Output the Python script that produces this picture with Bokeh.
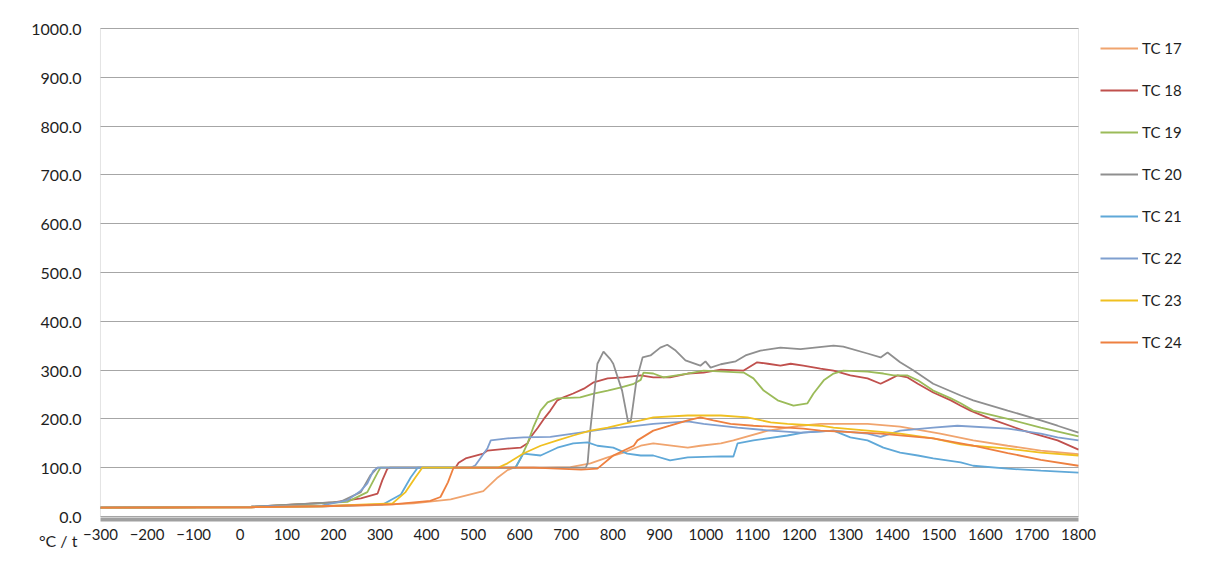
from bokeh.plotting import figure
from bokeh.models import Range1d, FixedTicker, PrintfTickFormatter, Legend, LegendItem, BoxAnnotation
from bokeh.embed import file_html
from bokeh.resources import INLINE

series_names = ["TC 17", "TC 18", "TC 19", "TC 20", "TC 21", "TC 22", "TC 23", "TC 24"]
colors = ["#F0A46E", "#C0504D", "#9BBB59", "#8F8F8F", "#5FA8D8", "#7F9FCF", "#F0C020", "#EE8040"]

x_ticks = list(range(-300, 1801, 100))
y_ticks = list(range(0, 1001, 100))
unit_label = "°C / t\u00a0"
unit_label_pos = -49

tc17_x = [-300, 24, 176, 277, 372, 452, 522, 553, 574, 587, 651, 709, 752, 789, 823, 860, 887, 961, 988, 1032, 1059, 1133, 1203, 1246, 1347, 1417, 1503, 1574, 1648, 1719, 1800]
tc17_y = [18, 19, 21, 23, 27, 35, 52, 80, 95, 100, 100, 101, 109, 121, 131, 145, 150, 141, 145, 150, 156, 176, 186, 190, 190, 184, 170, 156, 145, 135, 128]

tc18_x = [-300, 24, 200, 259, 295, 305, 316, 322, 462, 469, 484, 522, 531, 574, 602, 617, 623, 639, 652, 666, 681, 694, 715, 738, 759, 789, 823, 860, 887, 923, 961, 995, 1032, 1081, 1110, 1133, 1160, 1182, 1209, 1246, 1274, 1310, 1347, 1375, 1390, 1411, 1433, 1455, 1488, 1526, 1547, 1568, 1611, 1682, 1755, 1800]
tc18_y = [18, 20, 29, 37, 47, 74, 98, 100, 100, 110, 119, 129, 135, 139, 141, 150, 162, 182, 200, 217, 238, 244, 252, 262, 275, 283, 285, 289, 285, 285, 293, 295, 301, 299, 316, 313, 309, 313, 309, 303, 299, 289, 283, 272, 279, 289, 285, 272, 254, 238, 227, 217, 200, 176, 156, 137]

tc19_x = [-300, 24, 230, 273, 295, 301, 591, 602, 617, 629, 645, 660, 681, 730, 759, 789, 816, 845, 860, 866, 887, 909, 961, 995, 1081, 1102, 1124, 1154, 1188, 1218, 1231, 1253, 1274, 1295, 1347, 1381, 1403, 1433, 1455, 1488, 1526, 1547, 1574, 1648, 1719, 1800]
tc19_y = [18, 20, 30, 50, 90, 100, 100, 119, 150, 182, 217, 234, 242, 244, 252, 258, 264, 272, 280, 295, 293, 285, 293, 299, 295, 283, 258, 238, 227, 232, 252, 279, 293, 299, 297, 293, 289, 289, 279, 258, 242, 232, 217, 200, 182, 164]

tc20_x = [-300, 24, 215, 259, 280, 295, 742, 746, 752, 767, 780, 795, 801, 820, 833, 839, 851, 864, 881, 902, 917, 935, 956, 988, 999, 1010, 1032, 1064, 1085, 1117, 1160, 1203, 1274, 1295, 1347, 1375, 1390, 1417, 1446, 1488, 1547, 1574, 1648, 1719, 1755, 1800]
tc20_y = [18, 20, 30, 50, 85, 100, 100, 110, 180, 313, 338, 322, 313, 258, 193, 197, 280, 326, 330, 346, 352, 340, 320, 309, 318, 305, 312, 318, 330, 340, 346, 343, 350, 348, 334, 326, 336, 316, 299, 272, 248, 238, 217, 197, 186, 172]

tc21_x = [-300, 24, 176, 307, 345, 366, 381, 591, 608, 645, 681, 715, 746, 767, 801, 831, 860, 887, 923, 961, 1032, 1059, 1068, 1102, 1175, 1209, 1274, 1310, 1347, 1381, 1417, 1455, 1488, 1547, 1574, 1648, 1719, 1800]
tc21_y = [18, 19, 21, 25, 45, 80, 100, 100, 129, 125, 141, 150, 152, 145, 141, 129, 125, 125, 115, 121, 123, 123, 150, 156, 166, 172, 176, 162, 156, 141, 131, 125, 119, 111, 104, 98, 94, 90]

tc22_x = [-300, 24, 176, 230, 259, 273, 286, 295, 495, 505, 531, 538, 574, 608, 666, 730, 789, 816, 887, 961, 995, 1068, 1139, 1203, 1274, 1347, 1375, 1417, 1488, 1540, 1648, 1719, 1755, 1800]
tc22_y = [18, 20, 23, 33, 53, 68, 94, 100, 100, 105, 140, 156, 160, 162, 163, 172, 180, 182, 190, 195, 190, 182, 176, 172, 176, 170, 163, 176, 182, 186, 180, 170, 162, 156]

tc23_x = [-300, 24, 176, 327, 355, 376, 391, 553, 574, 608, 645, 681, 715, 752, 789, 823, 860, 887, 961, 1032, 1089, 1139, 1175, 1246, 1274, 1347, 1417, 1488, 1547, 1574, 1648, 1719, 1800]
tc23_y = [18, 19, 21, 27, 50, 80, 100, 100, 109, 129, 145, 156, 166, 176, 182, 190, 197, 203, 207, 207, 203, 193, 190, 186, 182, 176, 170, 160, 148, 145, 139, 131, 125]

tc24_x = [-300, 24, 176, 327, 408, 430, 446, 458, 630, 732, 767, 801, 845, 853, 887, 923, 961, 988, 1016, 1053, 1102, 1175, 1209, 1246, 1375, 1488, 1574, 1648, 1719, 1800]
tc24_y = [18, 19, 21, 25, 32, 40, 70, 100, 100, 96, 98, 125, 145, 156, 176, 186, 197, 203, 197, 190, 186, 182, 180, 176, 170, 160, 145, 130, 116, 104]

xs = [tc17_x, tc18_x, tc19_x, tc20_x, tc21_x, tc22_x, tc23_x, tc24_x]
ys = [tc17_y, tc18_y, tc19_y, tc20_y, tc21_y, tc22_y, tc23_y, tc24_y]

FONT = "Lato"
GRID = "#A6A6A6"
X0, X1 = x_ticks[0], x_ticks[-1]

# The whole chart (axis labels and legend included) lives inside one frame,
# so that no end label gets clipped; grid lines are bounded to the plot area.
p = figure(frame_width=1190, frame_height=546,
           x_range=Range1d(-493.25, 2061.96), y_range=Range1d(-81.97, 1036.89),
           output_backend="svg", toolbar_location=None,
           min_border_left=10, min_border_top=10, min_border_right=5, min_border_bottom=4)

p.background_fill_color = "white"
p.border_fill_color = "white"
p.outline_line_color = None
p.xgrid.visible = False
p.ygrid.ticker = FixedTicker(ticks=y_ticks)
p.ygrid.grid_line_color = GRID
p.ygrid.grid_line_width = 1
p.ygrid.cross_bounds = (X0, X1)

# plot-area border (0 .. 1000)
p.add_layout(BoxAnnotation(left=X0, right=X1, bottom=y_ticks[0], top=y_ticks[-1],
                           fill_alpha=0, line_color=GRID, line_width=1))

p.yaxis.ticker = FixedTicker(ticks=[unit_label_pos] + y_ticks)
p.yaxis.formatter = PrintfTickFormatter(format="%.1f")
p.yaxis.major_label_overrides = {unit_label_pos: unit_label}
p.yaxis.fixed_location = X0
p.xaxis.ticker = FixedTicker(ticks=x_ticks)
p.xaxis.fixed_location = -6
p.xaxis.bounds = (X0, X1)

for ax in (p.xaxis[0], p.yaxis[0]):
    ax.major_tick_in = 0
    ax.major_tick_out = 0
    ax.minor_tick_in = 0
    ax.minor_tick_out = 0
    ax.major_label_text_font = FONT
    ax.major_label_text_color = "#1E1E1E"

p.yaxis.major_label_text_font_size = "16px"
p.xaxis.major_label_text_font_size = "15px"
p.yaxis.axis_line_color = None
p.yaxis.major_label_standoff = 19
p.xaxis.axis_line_color = "#A0A0A0"
p.xaxis.axis_line_width = 4
p.xaxis.major_label_standoff = 10

items = []
for name, c, x, y in zip(series_names, colors, xs, ys):
    r = p.line(x, y, line_color=c, line_width=1.8)
    items.append(LegendItem(label=name, renderers=[r]))

legend = Legend(items=items, location=(1090, 204), orientation="vertical",
                glyph_width=38, glyph_height=20, label_height=20, spacing=22,
                padding=0, margin=0, border_line_color=None, background_fill_alpha=0,
                label_standoff=4, label_text_font=FONT, label_text_font_size="15px",
                label_text_color="#1E1E1E")
p.add_layout(legend)

open("out.html", "w").write(file_html(p, INLINE))
